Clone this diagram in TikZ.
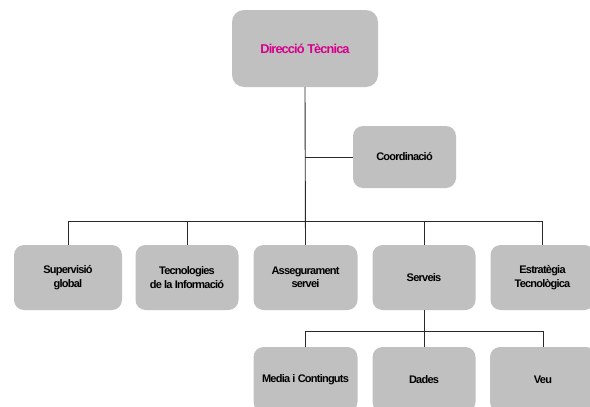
\documentclass[tikz,border=0pt]{standalone}
\usepackage{fontspec}
\setmainfont{Liberation Sans}[LetterSpace=-7]
\definecolor{boxgray}{RGB}{192,192,192}
\definecolor{titlemag}{RGB}{214,0,140}
\definecolor{linegray}{RGB}{40,40,40}
\begin{document}
\begin{tikzpicture}[x=1pt,y=-1pt,
  box/.style={fill=boxgray, rounded corners=10pt, inner sep=0pt, align=center,
    minimum width=104pt, minimum height=65pt,
    font=\fontsize{11}{13.5}\selectfont\bfseries},
  conn/.style={draw=linegray, line width=0.9pt}]
\useasboundingbox (0,0) rectangle (590,407);
\clip (0,0) rectangle (590,407);

% top
\node[box, minimum width=146pt, minimum height=77pt, rounded corners=12pt,
  text=titlemag, font=\fontsize{12.8}{15}\selectfont\bfseries] (dir) at (305,48.5) {Direcció Tècnica};
\node[box, minimum width=103pt, minimum height=62pt] (coord) at (404.5,157) {Coordinació};

% level 2
\node[box, minimum width=108pt] (sup) at (68,277.5) {Supervisió\\global};
\node[box, minimum width=103pt] (tec) at (187,277.5) {Tecnologies\\de la Informació};
\node[box] (ass) at (305.5,277.5) {Assegurament\\servei};
\node[box, minimum width=103pt] (ser) at (424,277.5) {Serveis};
\node[box] (est) at (542.5,277.5) {Estratègia\\Tecnològica};

% level 3
\node[box] (med) at (305.5,379.5) {Media i Continguts};
\node[box, minimum width=103pt] (dad) at (424,379.5) {Dades};
\node[box, minimum width=106pt] (veu) at (543,379.5) {Veu};

% connectors
\coordinate (j1) at (305.5,221);
\coordinate (j2) at (424,331);
\draw[conn] (dir.south) -- (ass.north);
\draw[conn] (dir.south |- coord.west) -- (coord.west);
\draw[conn] (sup.north) -- (sup.north |- j1) -- (est.north |- j1) -- (est.north);
\draw[conn] (tec.north) -- (tec.north |- j1);
\draw[conn] (ser.north) -- (ser.north |- j1);
\draw[conn] (ser.south) -- (dad.north);
\draw[conn] (med.north) -- (med.north |- j2) -- (veu.north |- j2) -- (veu.north);
\end{tikzpicture}
\end{document}
